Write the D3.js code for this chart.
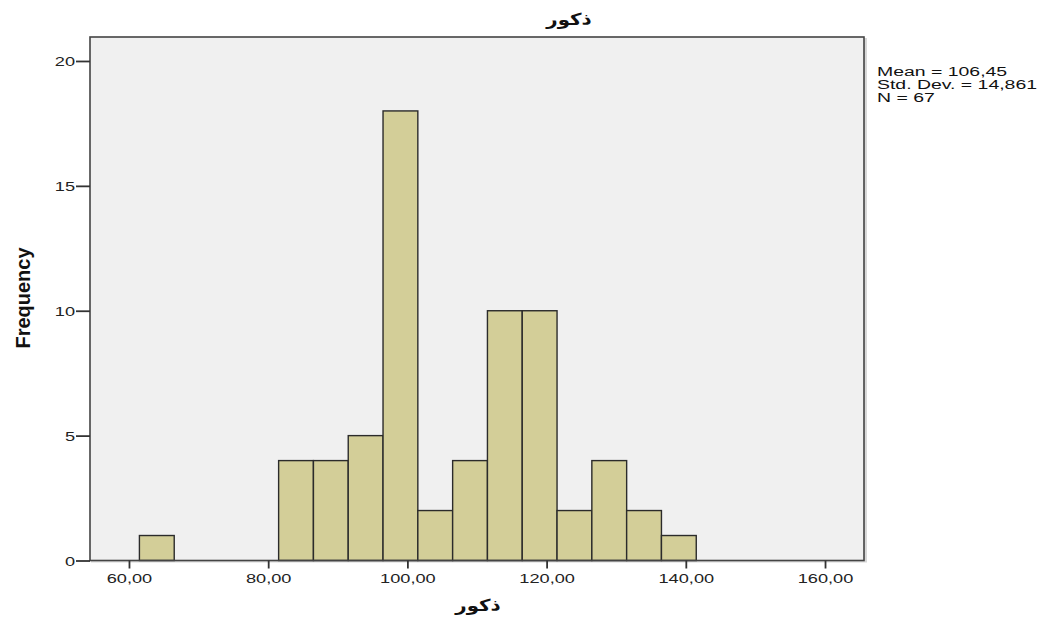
<!DOCTYPE html>
<html><head><meta charset="utf-8">
<script src="https://cdn.jsdelivr.net/npm/d3@7"></script>
<style>body{margin:0;background:#fff;} svg{display:block;}</style>
</head><body>
<svg id="c" width="1045" height="619"></svg>
<script>
// Data
const binStart = [61.5,66.5,71.5,76.5,81.5,86.5,91.5,96.5,101.5,106.5,111.5,116.5,121.5,126.5,131.5,136.5];
const binWidth = 5;
const frequencies = [1,0,0,0,4,4,5,18,2,4,10,10,2,4,2,1];
const xTicks = [60,80,100,120,140,160];
const yTicks = [0,5,10,15,20];
const statsLines = ["Mean = 106,45","Std. Dev. = 14,861","N = 67"];
const titleText = "ذكور";
const xLabel = "ذكور";
const yLabel = "Frequency";

const svg = d3.select("#c");
const L = 90, R = 864, T = 37, B = 560.5;
const x = d3.scaleLinear().domain([54.4, 165.6]).range([L, R]);
const y = d3.scaleLinear().domain([0, 20.96]).range([B, T]);
const SX = 1.4;
const FONT = "Liberation Sans, Arial, sans-serif";

// plot shadow + background
svg.append("rect").attr("x", L+1).attr("y", T+1).attr("width", R-L+2).attr("height", B-T+1).attr("fill", "#d8d8d8");
svg.append("rect").attr("x", L).attr("y", T).attr("width", R-L).attr("height", B-T).attr("fill", "#f0f0f0");

// bars
svg.append("g").selectAll("rect").data(frequencies.map((f,i)=>({f, s:binStart[i]})).filter(d=>d.f>0))
  .join("rect")
  .attr("x", d => x(d.s))
  .attr("width", d => x(d.s+binWidth)-x(d.s))
  .attr("y", d => y(d.f))
  .attr("height", d => y(0)-y(d.f))
  .attr("fill", "#d3ce98")
  .attr("stroke", "#2b2b2b")
  .attr("stroke-width", 1.4);

// frame
svg.append("rect").attr("x", L).attr("y", T).attr("width", R-L).attr("height", B-T)
  .attr("fill", "none").attr("stroke", "#444").attr("stroke-width", 1.6);

// axes
const fmt = d => d3.format(".2f")(d).replace(".", ",");
const xa = svg.append("g").attr("transform", `translate(0,${B})`)
  .call(d3.axisBottom(x).tickValues(xTicks).tickFormat(fmt).tickSize(8).tickSizeOuter(0));
const ya = svg.append("g").attr("transform", `translate(${L},0)`)
  .call(d3.axisLeft(y).tickValues(yTicks).tickSize(14).tickSizeOuter(0));
[xa, ya].forEach(a => {
  a.select(".domain").remove();
  a.selectAll(".tick line").attr("stroke", "#333").attr("stroke-width", 1.8);
  a.selectAll(".tick text").attr("fill", "#222").style("font-family", FONT).style("font-size", "13px");
});
xa.selectAll(".tick text").attr("dy", null).attr("y", null).attr("x", null)
  .attr("transform", `translate(0,22) scale(${SX},1)`);
ya.selectAll(".tick text").attr("dy", null).attr("x", null)
  .attr("transform", `translate(-15,4.5) scale(${SX},1)`);

// title & labels
function arabic(t, cx, cy) {
  svg.append("text").attr("transform", `translate(${cx},${cy}) scale(1.2,1)`).attr("text-anchor", "middle")
    .style("font-family", "DejaVu Sans, sans-serif").style("font-weight", "bold").style("font-size", "16.5px")
    .attr("fill", "#111").text(t);
}
arabic(titleText, 569, 25);
arabic(xLabel, 478, 611);
svg.append("text").attr("transform", "translate(30,298) rotate(-90)").attr("text-anchor", "middle")
  .style("font-family", "Liberation Sans Narrow, Arial Narrow, sans-serif").style("font-weight", "bold").style("font-size", "20px")
  .attr("fill", "#111").text(yLabel);

// stats
svg.append("g").selectAll("text").data(statsLines).join("text")
  .attr("transform", (d,i) => `translate(877,${76 + i*12.8}) scale(1.62,1)`)
  .style("font-family", FONT).style("font-size", "12px")
  .attr("fill", "#111").text(d => d);
</script>
</body></html>
